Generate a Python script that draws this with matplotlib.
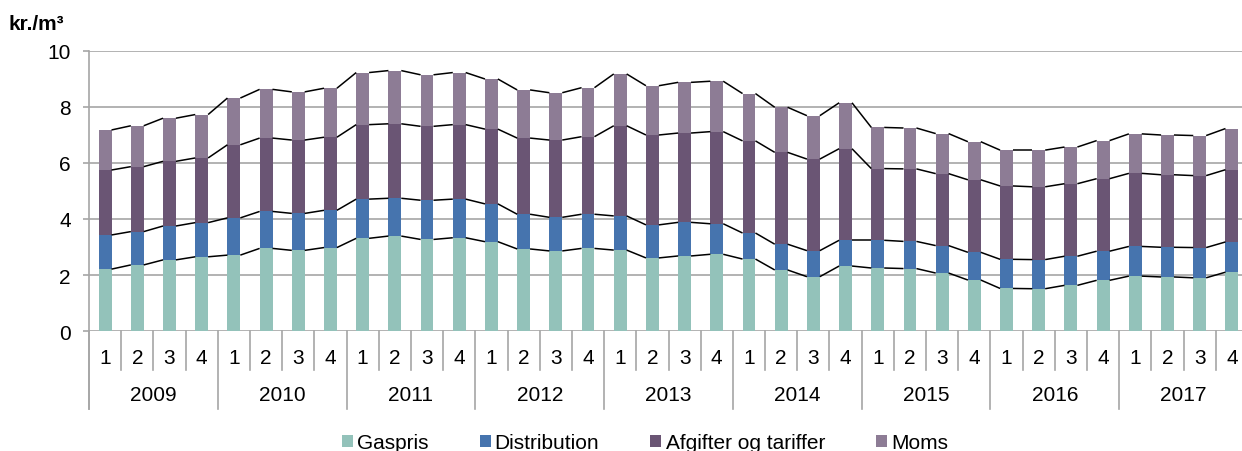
import matplotlib
matplotlib.use("Agg")
import matplotlib.pyplot as plt
import matplotlib.transforms as mtransforms
import numpy as np

plt.rcParams['font.family'] = ['Liberation Sans', 'DejaVu Sans']

years = ['2009', '2010', '2011', '2012', '2013', '2014', '2015', '2016', '2017']
quarters = ['1', '2', '3', '4']
series_names = ['Gaspris', 'Distribution', 'Afgifter og tariffer', 'Moms']

gaspris = [2.21, 2.36, 2.54, 2.65, 2.71, 2.95, 2.88, 2.98, 3.31, 3.39, 3.27, 3.33,
           3.19, 2.93, 2.86, 2.95, 2.89, 2.61, 2.68, 2.74, 2.57, 2.18, 1.94, 2.32,
           2.25, 2.23, 2.07, 1.82, 1.52, 1.51, 1.63, 1.81, 1.96, 1.93, 1.90, 2.10]
distribution = [1.22, 1.19, 1.21, 1.22, 1.33, 1.32, 1.32, 1.33, 1.40, 1.35, 1.40, 1.38,
                1.35, 1.24, 1.20, 1.22, 1.22, 1.18, 1.20, 1.09, 0.93, 0.92, 0.93, 0.92,
                0.99, 0.97, 0.98, 0.99, 1.04, 1.04, 1.04, 1.04, 1.06, 1.06, 1.08, 1.08]
afgifter = [2.32, 2.32, 2.31, 2.31, 2.61, 2.62, 2.62, 2.61, 2.66, 2.66, 2.64, 2.66,
            2.67, 2.72, 2.76, 2.77, 3.22, 3.21, 3.19, 3.29, 3.29, 3.28, 3.27, 3.27,
            2.56, 2.59, 2.57, 2.59, 2.62, 2.60, 2.59, 2.59, 2.61, 2.59, 2.57, 2.58]
moms = [1.43, 1.46, 1.54, 1.55, 1.67, 1.74, 1.72, 1.75, 1.86, 1.90, 1.84, 1.86,
        1.79, 1.72, 1.69, 1.75, 1.85, 1.76, 1.81, 1.80, 1.69, 1.61, 1.55, 1.64,
        1.47, 1.46, 1.43, 1.36, 1.28, 1.31, 1.31, 1.36, 1.41, 1.42, 1.43, 1.47]

colors = ['#93C2BA', '#4674AE', '#6A5574', '#8D7C95']
grid_c = '#A6A6A6'

W, H = 1242, 452
fig = plt.figure(figsize=(W / 100, H / 100), dpi=100)
left_px, right_px, top_px, bot_px = 89, 1248, 52, 332
ax = fig.add_axes([left_px / W, 1 - bot_px / H, (right_px - left_px) / W, (bot_px - top_px) / H])

data = [gaspris, distribution, afgifter, moms]
n = len(gaspris)
x = np.arange(n)
bw = 0.4
bottom = np.zeros(n)
for vals, col, name in zip(data, colors, series_names):
    vals = np.array(vals)
    ax.bar(x, vals, bw, bottom=bottom, color=col, label=name, zorder=3, linewidth=0)
    bottom = bottom + vals
    # series lines connecting bar tops
    for i in range(n - 1):
        ax.plot([x[i] + bw / 2, x[i + 1] - bw / 2], [bottom[i], bottom[i + 1]],
                color='black', lw=1.1, zorder=4, solid_capstyle='butt')

ax.set_xlim(-0.5, n - 0.5)
ax.set_ylim(0, 10)
ax.set_yticks(np.arange(0, 11, 2))
ax.yaxis.grid(True, color=grid_c, lw=1.2, zorder=0)
ax.set_axisbelow(True)
for s in ['top', 'right', 'bottom']:
    ax.spines[s].set_visible(False)
ax.spines['left'].set_color(grid_c)
ax.spines['left'].set_linewidth(1.2)
ax.tick_params(axis='y', length=4.5, width=1.2, color=grid_c, pad=8.5, labelsize=15)

# x axis: quarter labels and year labels
ax.set_xticks([])
trans = mtransforms.blended_transform_factory(ax.transData, ax.transAxes)
qlabels = quarters * len(years)
for i in range(n):
    ax.text(x[i], -0.093, qlabels[i], transform=trans, ha='center', va='center',
            fontsize=15, clip_on=False)
for i in range(n + 1):
    is_year = (i % 4 == 0)
    ybot = -0.28 if is_year else -0.139
    ax.plot([i - 0.5, i - 0.5], [0, ybot], transform=trans, color=grid_c, lw=1.2,
            clip_on=False, zorder=2)
for j, yr in enumerate(years):
    ax.text(4 * j + 1.5, -0.227, yr, transform=trans, ha='center', va='center',
            fontsize=15, clip_on=False)
# left axis spine extends down
ax.plot([-0.5, -0.5], [0, -0.28], transform=trans, color=grid_c, lw=1.2, clip_on=False)

fig.text(9 / W, 1 - 24 / H, 'kr./m³', fontsize=15, fontweight='bold', ha='left', va='center')

handles, labels = ax.get_legend_handles_labels()
leg = fig.legend(handles, labels, ncol=4, loc='center', bbox_to_anchor=(645 / W, 1 - 444 / H),
                 frameon=False, fontsize=15, handlelength=0.53, handleheight=0.53,
                 handletextpad=0.2, columnspacing=2.45, borderaxespad=0, borderpad=0)

fig.savefig('out.png', dpi=100)
